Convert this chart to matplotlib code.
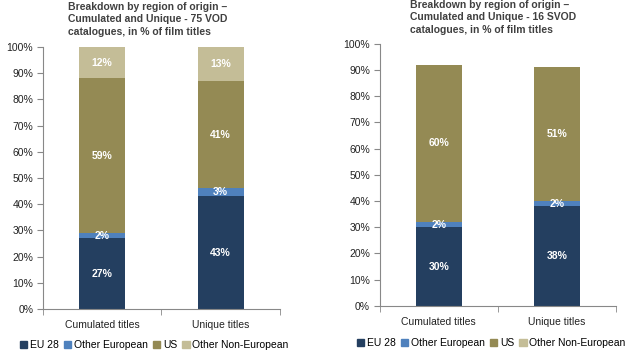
import numpy as np
import matplotlib.pyplot as plt
from matplotlib.patches import Patch

plt.rcParams['font.family'] = ['Liberation Sans', 'DejaVu Sans']

categories = ['Cumulated titles', 'Unique titles']
series = ['EU 28', 'Other European', 'US', 'Other Non-European']
colors = ['#243F60', '#4F81BD', '#948A54', '#C4BD97']

vod = {'EU 28': [27, 43], 'Other European': [2, 3], 'US': [59, 41], 'Other Non-European': [12, 13]}
svod = {'EU 28': [30, 38], 'Other European': [2, 2], 'US': [60, 51], 'Other Non-European': [0, 0]}

vod_title = 'Breakdown by region of origin \u2013\nCumulated and Unique - 75 VOD\ncatalogues, in % of film titles'
svod_title = 'Breakdown by region of origin \u2013\nCumulated and Unique - 16 SVOD\ncatalogues, in % of film titles'

fig = plt.figure(figsize=(6.33, 3.5), dpi=100)


def draw(ax, data):
    x = np.arange(len(categories))
    bottom = np.zeros(len(categories))
    for s, c in zip(series, colors):
        vals = np.array(data[s], dtype=float)
        ax.bar(x, vals, 0.39, bottom=bottom, color=c)
        for xi, v, b in zip(x, vals, bottom):
            if v > 0:
                ax.text(xi, b + v / 2, f'{v:.0f}%', ha='center', va='center',
                        color='white', fontsize=7.5, fontweight='bold')
        bottom += vals
    ax.set_xlim(-0.5, 1.5)
    ax.set_ylim(0, 100)
    ax.set_yticks(range(0, 101, 10))
    ax.set_yticklabels([f'{v}%' for v in range(0, 101, 10)], fontsize=7.5, color='#222222')
    ax.set_xticks(x)
    ax.set_xticklabels(categories, fontsize=7.5, color='#222222')
    ax.set_xticks([-0.5, 0.5, 1.5], minor=True)
    ax.tick_params(axis='x', which='major', length=0, pad=8)
    ax.tick_params(axis='x', which='minor', length=4, color='#888888')
    ax.tick_params(axis='y', length=4, color='#888888', pad=3)
    for side in ['top', 'right']:
        ax.spines[side].set_visible(False)
    for side in ['left', 'bottom']:
        ax.spines[side].set_color('#888888')


ax1 = fig.add_axes([0.068, 0.117, 0.374, 0.749])
draw(ax1, vod)
ax2 = fig.add_axes([0.600, 0.126, 0.373, 0.749])
draw(ax2, svod)

fig.text(68 / 633, 1 - 2 / 350, vod_title, ha='left', va='top', fontsize=7.5,
         fontweight='bold', color='#404040', linespacing=1.3)
fig.text(410 / 633, 1 - 0 / 350, svod_title, ha='left', va='top', fontsize=7.5,
         fontweight='bold', color='#404040', linespacing=1.3)

handles = [Patch(color=c, label=s) for s, c in zip(series, colors)]
for x0, y0 in [(20, 345), (357, 343)]:
    fig.legend(handles=handles, loc='center left', bbox_to_anchor=(x0 / 633, 1 - y0 / 350),
               ncol=4, frameon=False, fontsize=7.5, handlelength=0.7, handleheight=0.7,
               handletextpad=0.25, columnspacing=0.5, borderpad=0, borderaxespad=0)

fig.savefig('out.png', dpi=100)
